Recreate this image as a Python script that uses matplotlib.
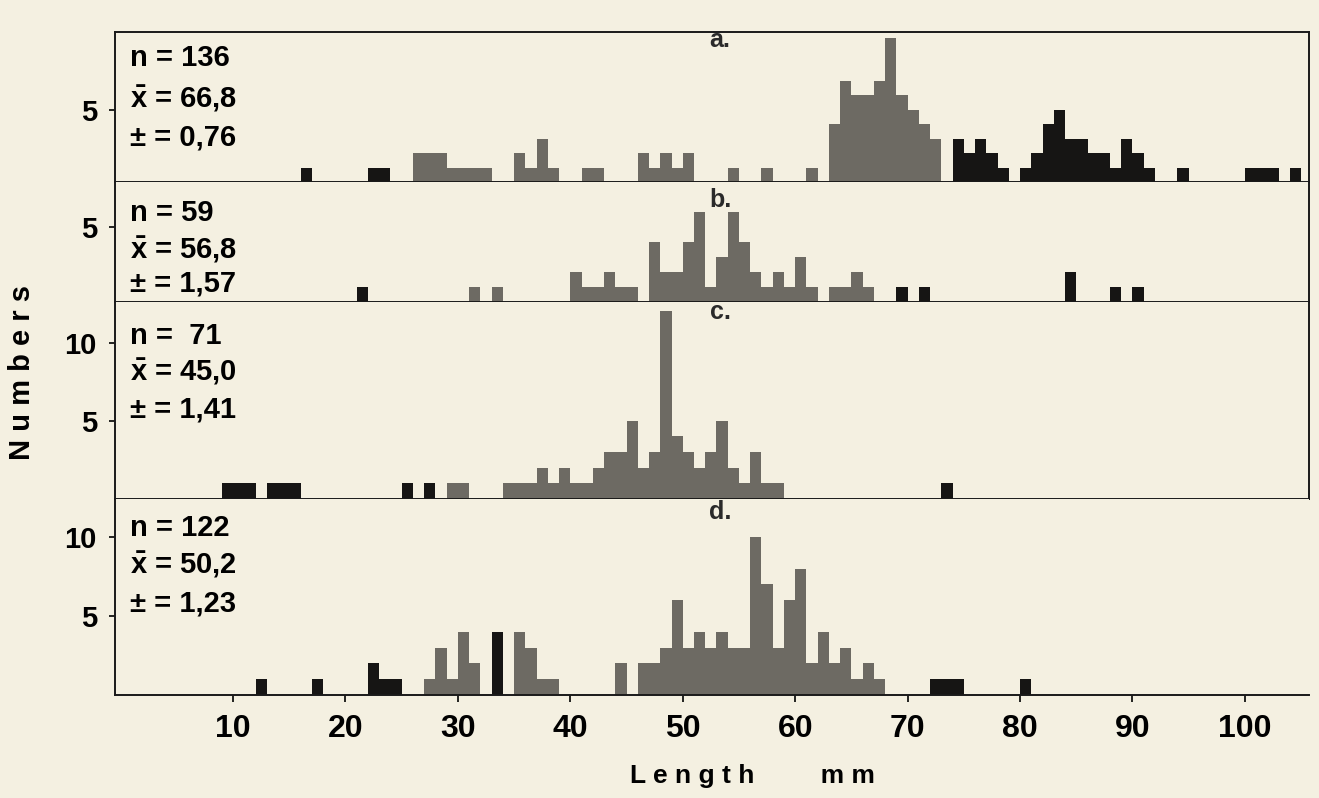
import matplotlib.pyplot as plt

plt.rcParams['font.family'] = ['Liberation Sans', 'DejaVu Sans']
plt.rcParams['font.weight'] = 'bold'
plt.rcParams['mathtext.fontset'] = 'custom'
plt.rcParams['mathtext.bf'] = 'Liberation Sans:bold'

# length classes (mm) and numbers of fish
a_grey_mm = [26, 27, 28, 29, 30, 31, 32, 35, 36, 37, 38, 41, 42, 46, 47, 48, 49, 50, 54, 57, 61,
             63, 64, 65, 66, 67, 68, 69, 70, 71, 72]
a_grey_n = [2, 2, 2, 1, 1, 1, 1, 2, 1, 3, 1, 1, 1, 2, 1, 2, 1, 2, 1, 1, 1,
            4, 7, 6, 6, 7, 10, 6, 5, 4, 3]
a_black_mm = [16, 22, 23, 74, 75, 76, 77, 78, 80, 81, 82, 83, 84, 85, 86, 87, 88, 89, 90, 91,
              94, 100, 101, 102, 104]
a_black_n = [1, 1, 1, 3, 2, 3, 2, 1, 1, 2, 4, 5, 3, 3, 2, 2, 1, 3, 2, 1,
             1, 1, 1, 1, 1]

b_grey_mm = [31, 33, 40, 41, 42, 43, 44, 45, 47, 48, 49, 50, 51, 52, 53, 54, 55, 56, 57, 58, 59,
             60, 61, 63, 64, 65, 66]
b_grey_n = [1, 1, 2, 1, 1, 2, 1, 1, 4, 2, 2, 4, 6, 1, 3, 6, 4, 2, 1, 2, 1,
            3, 1, 1, 1, 2, 1]
b_black_mm = [21, 69, 71, 84, 88, 90]
b_black_n = [1, 1, 1, 2, 1, 1]

c_grey_mm = [29, 30, 34, 35, 36, 37, 38, 39, 40, 41, 42, 43, 44, 45, 46, 47, 48, 49, 50, 51,
             52, 53, 54, 55, 56, 57, 58]
c_grey_n = [1, 1, 1, 1, 1, 2, 1, 2, 1, 1, 2, 3, 3, 5, 2, 3, 12, 4, 3, 2,
            3, 5, 2, 1, 3, 1, 1]
c_black_mm = [9, 10, 11, 13, 14, 15, 25, 27, 73]
c_black_n = [1, 1, 1, 1, 1, 1, 1, 1, 1]

d_grey_mm = [27, 28, 29, 30, 31, 35, 36, 37, 38, 44, 46, 47, 48, 49, 50, 51, 52, 53, 54, 55,
             56, 57, 58, 59, 60, 61, 62, 63, 64, 65, 66, 67]
d_grey_n = [1, 3, 1, 4, 2, 4, 3, 1, 1, 2, 2, 2, 3, 6, 3, 4, 3, 4, 3, 3,
            10, 7, 3, 6, 8, 2, 4, 2, 3, 1, 2, 1]
d_black_mm = [12, 17, 22, 23, 24, 33, 72, 73, 74, 80]
d_black_n = [1, 1, 2, 1, 1, 4, 1, 1, 1, 1]

panels = [
    ('a.', 'n = 136', '66,8', '0,76', a_grey_mm, a_grey_n, a_black_mm, a_black_n),
    ('b.', 'n = 59', '56,8', '1,57', b_grey_mm, b_grey_n, b_black_mm, b_black_n),
    ('c.', 'n =  71', '45,0', '1,41', c_grey_mm, c_grey_n, c_black_mm, c_black_n),
    ('d.', 'n = 122', '50,2', '1,23', d_grey_mm, d_grey_n, d_black_mm, d_black_n),
]

bg = '#f4f0e1'
grey = '#6d6a63'
black = '#161514'

W, H = 1319, 798
fig = plt.figure(figsize=(W / 100, H / 100), dpi=100, facecolor=bg)

# pixel layout of the four stacked panels (top, bottom)
rows = [(32, 182), (182, 302), (302, 499), (499, 695)]
ymaxes = [10.4, 8.0, 12.6, 12.4]
yticks = [[5], [5], [5, 10], [5, 10]]
left, right = 115, 1309
label_y = [[58, 99, 137], [213, 250, 284], [336, 372, 410], [528, 565, 603]]
letter_y = [40, 200, 312, 512]

for i, (let, ntxt, mean, se, gm, gn, bm, bn) in enumerate(panels):
    top, bot = rows[i]
    ax = fig.add_axes([left / W, 1 - bot / H, (right - left) / W, (bot - top) / H])
    ax.set_facecolor(bg)
    ax.bar(gm, gn, width=1, align='edge', color=grey, linewidth=0)
    ax.bar(bm, bn, width=1, align='edge', color=black, linewidth=0)
    ax.set_xlim(-0.5, 105.7)
    ax.set_ylim(0, ymaxes[i])
    ax.set_yticks(yticks[i])
    ax.set_yticklabels([str(t) for t in yticks[i]], fontsize=21, fontweight='bold')
    ax.tick_params(axis='y', length=4, width=1.2, pad=9)
    for s in ax.spines.values():
        s.set_linewidth(1.4)
        s.set_color('#1a1a1a')
    if i > 0:
        ax.spines['top'].set_visible(False)
    if i == 3:
        ax.spines['right'].set_visible(False)
        ax.set_xticks(range(10, 101, 10))
        ax.set_xticklabels([str(t) for t in range(10, 101, 10)], fontsize=23, fontweight='bold')
        ax.tick_params(axis='x', length=5, width=1.2, pad=9)
    else:
        ax.set_xticks([])

    ly = label_y[i]
    fig.text(130 / W, 1 - ly[0] / H, ntxt, fontsize=21, fontweight='bold', va='center')
    fig.text(130 / W, 1 - ly[1] / H, r'$\bar{\mathbf{x}}$ = ' + mean, fontsize=21,
             fontweight='bold', va='center')
    fig.text(130 / W, 1 - ly[2] / H, '\u00b1 = ' + se, fontsize=21, fontweight='bold', va='center')
    fig.text(720 / W, 1 - letter_y[i] / H, let, fontsize=18, fontweight='bold',
             ha='center', va='center', color='#2a2a2a')

fig.text(752 / W, 1 - 776 / H, 'L e n g t h         m m', fontsize=19, fontweight='bold',
         ha='center', va='center')
fig.text(22 / W, 1 - 372 / H, 'N u m b e r s', fontsize=21, fontweight='bold',
         ha='center', va='center', rotation=90)

fig.savefig('out.png', dpi=100, facecolor=bg)
